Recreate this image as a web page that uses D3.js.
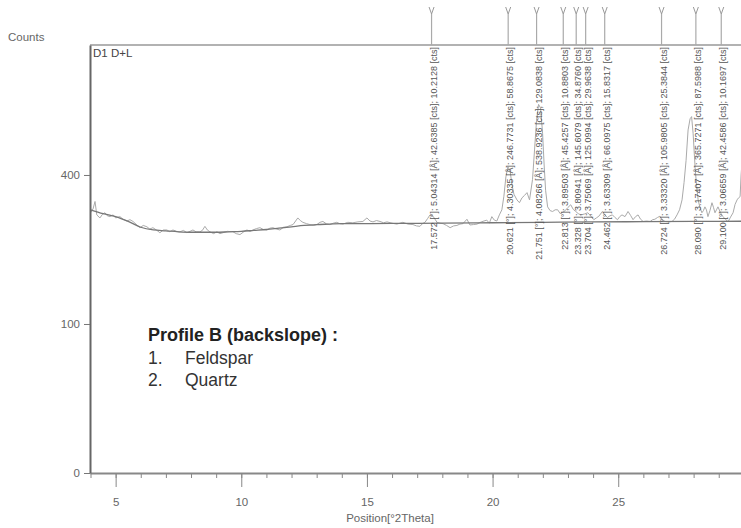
<!DOCTYPE html>
<html>
<head>
<meta charset="utf-8">
<script src="https://cdn.jsdelivr.net/npm/d3@7"></script>
<style>
body { margin: 0; background: #fff; }
svg { display: block; font-family: "Liberation Sans", Arial, sans-serif; }
</style>
</head>
<body>
<svg id="chart" width="741" height="528"></svg>
<script>
// data

let peakPos = [17.572, 20.621, 21.751, 22.813, 23.328, 23.704, 24.462, 26.724, 28.090, 29.100];
let peakD = ["5.04314", "4.30335", "4.08266", "3.89503", "3.80941", "3.75069", "3.63309", "3.33320", "3.17407", "3.06659"];
let peakHeight = ["42.6385", "246.7731", "538.9236", "45.4257", "145.6079", "125.0994", "66.0975", "105.9805", "365.7271", "42.4586"];
let peakArea = ["10.2128", "58.8675", "129.0838", "10.8803", "34.8760", "29.9638", "15.8317", "25.3844", "87.5988", "10.1697"];

let xMajorTicks = [5, 10, 15, 20, 25];
let xMinorTicks = [4, 5, 6, 7, 8, 9, 10, 11, 12, 13, 14, 15, 16, 17, 18, 19, 20, 21, 22, 23, 24, 25, 26, 27, 28, 29];
let yTicks = [0, 100, 400];

let measured = [
    [4.0, 305], [4.1, 314], [4.18, 332], [4.25, 300], [4.375, 293], [4.47, 301], [4.574, 305], [4.67, 298],
    [4.773, 296], [4.9, 300], [5.0, 293], [5.171, 296], [5.3, 290], [5.45, 286], [5.57, 289], [5.69, 285],
    [5.83, 278], [5.967, 271], [6.1, 276], [6.245, 273], [6.36, 268], [6.484, 271], [6.62, 266], [6.763, 260],
    [6.9, 266], [7.041, 266], [7.16, 262], [7.28, 266], [7.42, 263], [7.559, 262], [7.7, 265], [7.837, 260],
    [7.96, 263], [8.076, 266], [8.2, 262], [8.355, 262], [8.45, 265], [8.553, 274], [8.65, 266], [8.752, 262],
    [8.9, 258], [9.031, 262], [9.15, 258], [9.27, 260], [9.45, 263], [9.668, 262], [9.8, 258], [9.947, 256],
    [10.1, 262], [10.225, 266], [10.35, 263], [10.464, 266], [10.6, 269], [10.743, 271], [10.88, 267], [11.02, 266],
    [11.14, 270], [11.26, 271], [11.4, 268], [11.54, 266], [11.68, 272], [11.82, 273], [11.95, 276], [12.06, 278],
    [12.25, 293], [12.35, 287], [12.45, 283], [12.6, 280], [12.73, 278], [12.87, 276], [13.01, 278], [13.13, 283],
    [13.25, 285], [13.4, 279], [13.52, 278], [13.66, 281], [13.8, 283], [13.92, 280], [14.04, 279], [14.24, 283],
    [14.44, 282], [14.64, 284], [14.84, 285], [15.0, 293], [15.12, 286], [15.24, 284], [15.38, 287], [15.52, 285],
    [15.66, 282], [15.8, 284], [16.0, 281], [16.19, 279], [16.31, 281], [16.43, 283], [16.63, 279], [16.83, 278],
    [16.97, 275], [17.11, 274], [17.21, 280], [17.31, 283], [17.42, 292], [17.51, 300], [17.63, 297], [17.79, 283],
    [17.91, 281], [18.03, 280], [18.17, 276], [18.31, 271], [18.45, 275], [18.58, 276], [18.7, 279], [18.82, 280],
    [18.98, 290], [19.1, 277], [19.24, 278], [19.38, 279], [19.55, 284], [19.77, 288], [19.87, 281], [19.97, 296],
    [20.07, 288], [20.17, 286], [20.27, 300], [20.37, 312], [20.45, 345], [20.53, 395], [20.61, 422], [20.7, 410],
    [20.77, 375], [20.85, 350], [20.97, 336], [21.07, 329], [21.17, 341], [21.27, 347], [21.37, 354], [21.47, 336],
    [21.59, 388], [21.67, 470], [21.75, 560], [21.83, 612], [21.91, 600], [21.99, 520], [22.05, 430], [22.11, 360],
    [22.19, 319], [22.29, 310], [22.39, 308], [22.49, 312], [22.59, 312], [22.69, 303], [22.79, 306], [22.89, 310],
    [22.99, 317], [23.11, 324], [23.21, 313], [23.31, 308], [23.41, 303], [23.51, 300], [23.65, 302], [23.79, 305],
    [23.91, 297], [24.03, 289], [24.13, 293], [24.23, 297], [24.37, 308], [24.47, 300], [24.57, 294], [24.67, 298],
    [24.77, 300], [24.87, 294], [24.97, 289], [25.06, 296], [25.15, 300], [25.27, 296], [25.39, 308], [25.49, 299],
    [25.59, 289], [25.69, 296], [25.79, 300], [25.89, 290], [25.99, 285], [26.13, 286], [26.27, 285], [26.37, 289],
    [26.46, 290], [26.56, 294], [26.66, 297], [26.76, 289], [26.86, 285], [27.0, 284], [27.14, 285], [27.24, 290],
    [27.34, 300], [27.44, 312], [27.54, 336], [27.62, 380], [27.7, 440], [27.78, 530], [27.86, 565], [27.92, 572],
    [27.98, 520], [28.06, 420], [28.12, 370], [28.18, 336], [28.25, 318], [28.33, 305], [28.39, 310], [28.45, 319],
    [28.51, 312], [28.57, 296], [28.65, 310], [28.73, 329], [28.79, 318], [28.85, 305], [28.91, 312], [28.97, 319],
    [29.07, 305], [29.17, 296], [29.27, 290], [29.37, 284], [29.47, 295], [29.57, 305], [29.65, 325], [29.73, 336],
    [29.79, 341], [29.85, 344], [29.89, 400], [29.95, 460], [30.05, 520]
];

let background = [
    [4.0, 312], [4.5, 303], [5.0, 296], [5.5, 285], [6.0, 272], [6.5, 266], [7.0, 264], [7.5, 262],
    [8.0, 261], [8.5, 261], [9.0, 261], [9.5, 262], [10.0, 263], [10.5, 265], [11.0, 267], [11.5, 270],
    [12.0, 273], [12.5, 276], [13.0, 278], [13.5, 279], [14.0, 280], [15.0, 280], [16.0, 280.5], [18.0, 281],
    [20.0, 282], [22.0, 283], [24.0, 284], [26.0, 284.5], [28.0, 285], [30.0, 285.5]
];

let legendTitle = "Profile B (backslope) :";
let legendItems = ["Feldspar", "Quartz"];

// layout

let svg = d3.select("#chart");
let plotLeft = 90, plotTop = 45, plotBottom = 473, plotRight = 769;

let x = d3.scaleLinear()
          .domain([3.98, 31])
          .range([plotLeft, plotRight]);
let y = d3.scaleSqrt()
          .domain([0, 825])
          .range([plotBottom, plotTop]);

function initFrame() {
    svg.append("defs").append("clipPath")
       .attr("id", "plotClip")
       .append("rect")
       .attr("x", plotLeft)
       .attr("y", plotTop)
       .attr("width", plotRight - plotLeft)
       .attr("height", plotBottom - plotTop);

    svg.append("line")
       .attr("x1", plotLeft).attr("x2", 741)
       .attr("y1", plotTop).attr("y2", plotTop)
       .style("stroke", "#999")
       .style("stroke-width", 1.5);
}

function initAxes() {
    let minorG = svg.append("g")
                    .attr("transform", `translate(0,${plotBottom})`)
                    .call(d3.axisBottom(x).tickValues(xMinorTicks).tickSize(5).tickFormat("").tickSizeOuter(0));
    minorG.select(".domain").remove();
    minorG.selectAll(".tick line").style("stroke", "#888");

    let xG = svg.append("g")
                .attr("transform", `translate(0,${plotBottom})`)
                .call(d3.axisBottom(x).tickValues(xMajorTicks).tickSize(14).tickPadding(11).tickSizeOuter(0));
    xG.select(".domain").style("stroke", "#888").style("stroke-width", 2);
    xG.selectAll(".tick line").style("stroke", "#888");
    xG.selectAll(".tick text")
      .style("font-family", "Liberation Sans, Arial, sans-serif")
      .style("font-size", "11.5px")
      .style("fill", "#666");

    let yG = svg.append("g")
                .attr("transform", `translate(${plotLeft},0)`)
                .call(d3.axisLeft(y).tickValues(yTicks).tickSize(6).tickPadding(4).tickSizeOuter(0));
    yG.select(".domain").style("stroke", "#666").style("stroke-width", 2);
    yG.selectAll(".tick line").style("stroke", "#777");
    yG.selectAll(".tick text")
      .style("font-family", "Liberation Sans, Arial, sans-serif")
      .style("font-size", "11.5px")
      .style("fill", "#666");

    svg.append("text")
       .attr("x", 8).attr("y", 41)
       .style("font-size", "11.5px")
       .style("fill", "#666")
       .text("Counts");

    svg.append("text")
       .attr("x", 390).attr("y", 522)
       .attr("text-anchor", "middle")
       .style("font-size", "11.5px")
       .style("fill", "#666")
       .text("Position[°2Theta]");

    svg.append("text")
       .attr("x", 93).attr("y", 57)
       .style("font-size", "11.5px")
       .style("fill", "#444")
       .text("D1 D+L");
}

function drawLines() {
    let line = d3.line()
                 .x(d => x(d[0]))
                 .y(d => y(d[1]));

    let g = svg.append("g").attr("clip-path", "url(#plotClip)");

    g.append("path")
     .datum(measured)
     .attr("d", line)
     .style("fill", "none")
     .style("stroke", "#aaa")
     .style("stroke-width", 1);

    g.append("path")
     .datum(background)
     .attr("d", line.curve(d3.curveMonotoneX))
     .style("fill", "none")
     .style("stroke", "#777")
     .style("stroke-width", 1.3);
}

function drawPeaks() {
    let g = svg.append("g");

    peakPos.forEach((p, i) => {
        let px = x(p);
        if (px > 741) return;

        g.append("line")
         .attr("x1", px).attr("x2", px)
         .attr("y1", 14).attr("y2", plotTop)
         .style("stroke", "#aaa")
         .style("stroke-width", 1.2);

        g.append("path")
         .attr("d", `M${px - 2.5},7L${px},14L${px + 2.5},7`)
         .style("fill", "none")
         .style("stroke", "#999")
         .style("stroke-width", 1);

        let label = `${p.toFixed(3)} [°]; ${peakD[i]} [Å]; ${peakHeight[i]} [cts]; ${peakArea[i]} [cts]`;
        g.append("text")
         .attr("transform", `translate(${px + 5},${plotTop + 2}) rotate(-90)`)
         .attr("text-anchor", "end")
         .style("font-size", "9px")
         .style("fill", "#555")
         .text(label);
    });
}

function drawLegend() {
    svg.append("text")
       .attr("x", 148).attr("y", 341)
       .style("font-size", "18px")
       .style("font-weight", "bold")
       .style("fill", "#222")
       .text(legendTitle);

    legendItems.forEach((item, i) => {
        let yy = 364 + i * 22;
        svg.append("text")
           .attr("x", 148).attr("y", yy)
           .style("font-size", "17.5px")
           .style("fill", "#333")
           .text(`${i + 1}.`);
        svg.append("text")
           .attr("x", 185).attr("y", yy)
           .style("font-size", "17.5px")
           .style("fill", "#333")
           .text(item);
    });
}

initFrame();
drawLines();
initAxes();
drawPeaks();
drawLegend();
</script>
</body>
</html>
